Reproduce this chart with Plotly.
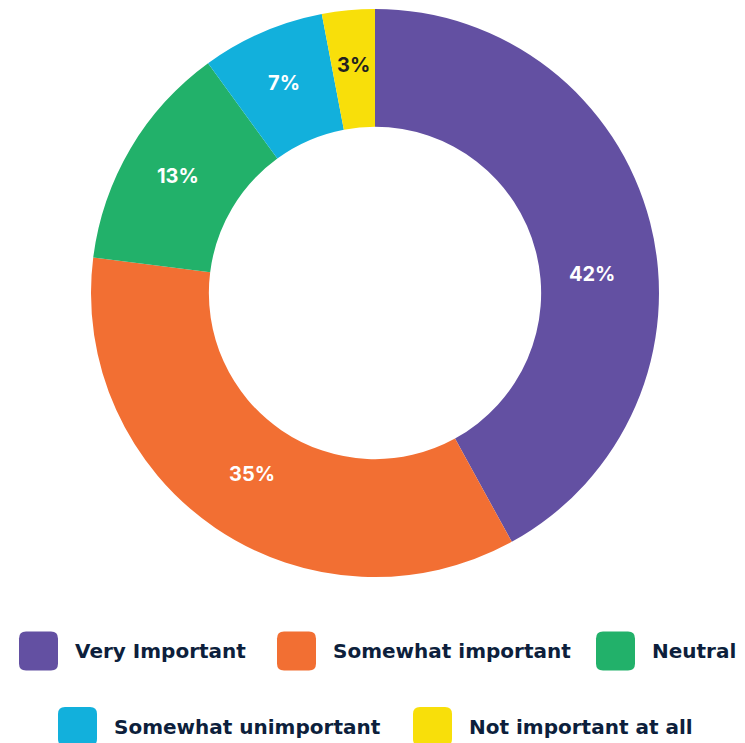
import math
import plotly.graph_objects as go

# Survey responses
categories = ["Very Important", "Somewhat important", "Neutral",
              "Somewhat unimportant", "Not important at all"]
shares = [42, 35, 13, 7, 3]
colors = ["#6350a2", "#f26f33", "#22b16a", "#12b0dc", "#f8df0a"]
label_colors = ["#ffffff", "#ffffff", "#ffffff", "#ffffff", "#231f20"]

W, H = 745, 743
CX, CY, R_OUT = 375, 293, 284          # donut centre and outer radius (px)

# fine placement of the percentage labels inside the ring
label_radius = [218, 219, 229, 229, 229]   # px from centre
label_turn = [9.4, 0, 0, 0, 0]             # degrees added to the slice mid-angle

fig = go.Figure(go.Pie(
    labels=categories,
    values=shares,
    sort=False,
    direction="clockwise",
    rotation=0,
    hole=0.585,
    marker=dict(colors=colors, line=dict(width=0)),
    textinfo="none",
    hoverinfo="label+percent",
    domain=dict(x=[(CX - R_OUT) / W, (CX + R_OUT) / W],
                y=[1 - (CY + R_OUT) / H, 1 - (CY - R_OUT) / H]),
    showlegend=False,
))


def px_x(v):
    return v / W


def px_y(v):
    return 1 - v / H


def rounded_rect(x0, y0, x1, y1, r):
    X, Y = px_x, px_y
    return (f"M {X(x0 + r)},{Y(y0)} L {X(x1 - r)},{Y(y0)} "
            f"Q {X(x1)},{Y(y0)} {X(x1)},{Y(y0 + r)} L {X(x1)},{Y(y1 - r)} "
            f"Q {X(x1)},{Y(y1)} {X(x1 - r)},{Y(y1)} L {X(x0 + r)},{Y(y1)} "
            f"Q {X(x0)},{Y(y1)} {X(x0)},{Y(y1 - r)} L {X(x0)},{Y(y0 + r)} "
            f"Q {X(x0)},{Y(y0)} {X(x0 + r)},{Y(y0)} Z")


annotations = []

# percentage labels at each slice's mid-angle (clockwise from 12 o'clock)
total = sum(shares)
cum = 0
for val, tcol, rad, turn in zip(shares, label_colors, label_radius, label_turn):
    mid = (cum + val / 2) / total * 360 + turn
    cum += val
    a = math.radians(mid)
    x = CX + rad * math.sin(a)
    y = CY - rad * math.cos(a)
    annotations.append(dict(x=px_x(x), y=px_y(y), xref="paper", yref="paper",
                            text=f"{val}%", showarrow=False,
                            xanchor="center", yanchor="middle",
                            font=dict(family="Inter", size=20, color=tcol, weight=700)))

# legend: rounded swatches with labels, two centred rows
legend_slots = [(19, 651), (277, 651), (596, 651), (58, 726.5), (413, 726.5)]
sq = 39
shapes = []
for name, col, (lx, cy) in zip(categories, colors, legend_slots):
    shapes.append(dict(type="path", xref="paper", yref="paper",
                       path=rounded_rect(lx, cy - sq / 2, lx + sq, cy + sq / 2, 7),
                       fillcolor=col, line=dict(width=0)))
    annotations.append(dict(x=px_x(lx + sq + 15), y=px_y(cy), xref="paper", yref="paper",
                            text=name, showarrow=False, xanchor="left", yanchor="middle",
                            font=dict(family="DejaVu Sans", size=20, color="#0d1f3c",
                                      weight=700)))

fig.update_layout(
    width=W, height=H,
    margin=dict(l=0, r=0, t=0, b=0),
    paper_bgcolor="white",
    plot_bgcolor="white",
    shapes=shapes,
    annotations=annotations,
)

fig.write_html("out.html")
